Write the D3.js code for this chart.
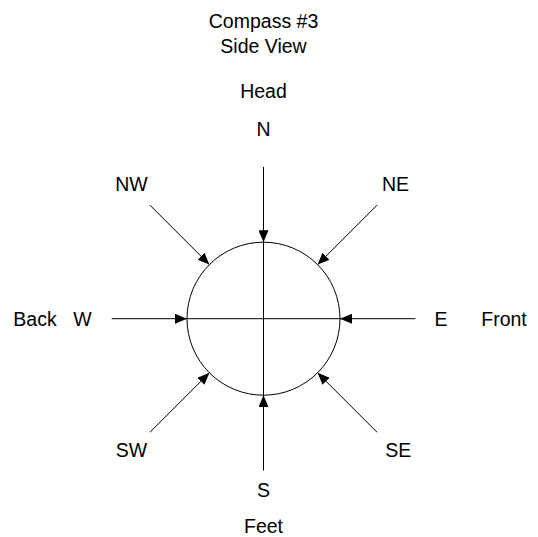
<!DOCTYPE html>
<html>
<head>
<meta charset="utf-8">
<script src="https://cdn.jsdelivr.net/npm/d3@7"></script>
<style>
  body { margin: 0; background: #fff; }
  text { font-family: "Liberation Sans", Arial, sans-serif; font-size: 19.5px; fill: #000; }
</style>
</head>
<body>
<div id="chart"></div>
<script>
var width = 538, height = 537;

// titles at the top
var titleLines = ["Compass #3", "Side View"];

// compass directions: angle in degrees (0 = east, counter-clockwise)
var directions = ["E", "NE", "N", "NW", "W", "SW", "S", "SE"];
var angles = [0, 45, 90, 135, 180, 225, 270, 315];
// where each arrow starts, in circle radii from the centre
var arrowStart = [1.985, 2.1, 1.985, 2.1, 1.985, 2.1, 1.985, 2.1];
// label positions in circle radii (x right, y up)
var labelX = [2.32, 1.725, 0, -1.725, -2.366, -1.725, 0, 1.76];
var labelY = [0, 1.754, 2.48, 1.754, 0, -1.716, -2.24, -1.716];

// body side names
var sideNames = ["Head", "Back", "Front", "Feet"];
var sideX = [0, -2.987, 3.144, 0];
var sideY = [2.976, 0, 0, -2.716];

var R = 76.5, cx = 263.5, cy = 318.7;
var x = d3.scaleLinear().domain([-1, 1]).range([cx - R, cx + R]);
var y = d3.scaleLinear().domain([1, -1]).range([cy - R, cy + R]);

var svg = d3.select("#chart")
  .append("svg")
  .attr("width", width)
  .attr("height", height);

svg.append("defs").append("marker")
  .attr("id", "head")
  .attr("markerUnits", "userSpaceOnUse")
  .attr("viewBox", "0 0 12 10")
  .attr("refX", 12)
  .attr("refY", 5)
  .attr("markerWidth", 12)
  .attr("markerHeight", 10)
  .attr("orient", "auto")
  .append("path")
  .attr("d", "M0,0L12,5L0,10Z")
  .attr("fill", "#000");

// title
svg.selectAll(".title")
  .data(titleLines)
  .enter()
  .append("text")
  .attr("class", "title")
  .attr("x", cx)
  .attr("y", function (d, i) { return 21.5 + i * 25; })
  .attr("dy", "0.35em")
  .attr("text-anchor", "middle")
  .text(function (d) { return d; });

// circle and cross
svg.append("circle")
  .attr("cx", x(0))
  .attr("cy", y(0))
  .attr("r", x(1) - x(0))
  .attr("fill", "none")
  .attr("stroke", "#000")
  .attr("stroke-width", 1);

svg.append("line")
  .attr("x1", x(0)).attr("y1", y(1))
  .attr("x2", x(0)).attr("y2", y(-1))
  .attr("stroke", "#000");
svg.append("line")
  .attr("x1", x(-1)).attr("y1", y(0))
  .attr("x2", x(1)).attr("y2", y(0))
  .attr("stroke", "#000");

var rad = function (a) { return a * Math.PI / 180; };

// arrows
svg.selectAll(".arrow")
  .data(directions)
  .enter()
  .append("line")
  .attr("class", "arrow")
  .attr("x1", function (d, i) { return x(arrowStart[i] * Math.cos(rad(angles[i]))); })
  .attr("y1", function (d, i) { return y(arrowStart[i] * Math.sin(rad(angles[i]))); })
  .attr("x2", function (d, i) { return x(Math.cos(rad(angles[i]))); })
  .attr("y2", function (d, i) { return y(Math.sin(rad(angles[i]))); })
  .attr("stroke", "#000")
  .attr("stroke-width", 1)
  .attr("marker-end", "url(#head)");

// direction labels
svg.selectAll(".dir")
  .data(directions)
  .enter()
  .append("text")
  .attr("class", "dir")
  .attr("x", function (d, i) { return x(labelX[i]); })
  .attr("y", function (d, i) { return y(labelY[i]); })
  .attr("dy", "0.35em")
  .attr("text-anchor", "middle")
  .text(function (d) { return d; });

// side labels
svg.selectAll(".side")
  .data(sideNames)
  .enter()
  .append("text")
  .attr("class", "side")
  .attr("x", function (d, i) { return x(sideX[i]); })
  .attr("y", function (d, i) { return y(sideY[i]); })
  .attr("dy", "0.35em")
  .attr("text-anchor", "middle")
  .text(function (d) { return d; });
</script>
</body>
</html>
